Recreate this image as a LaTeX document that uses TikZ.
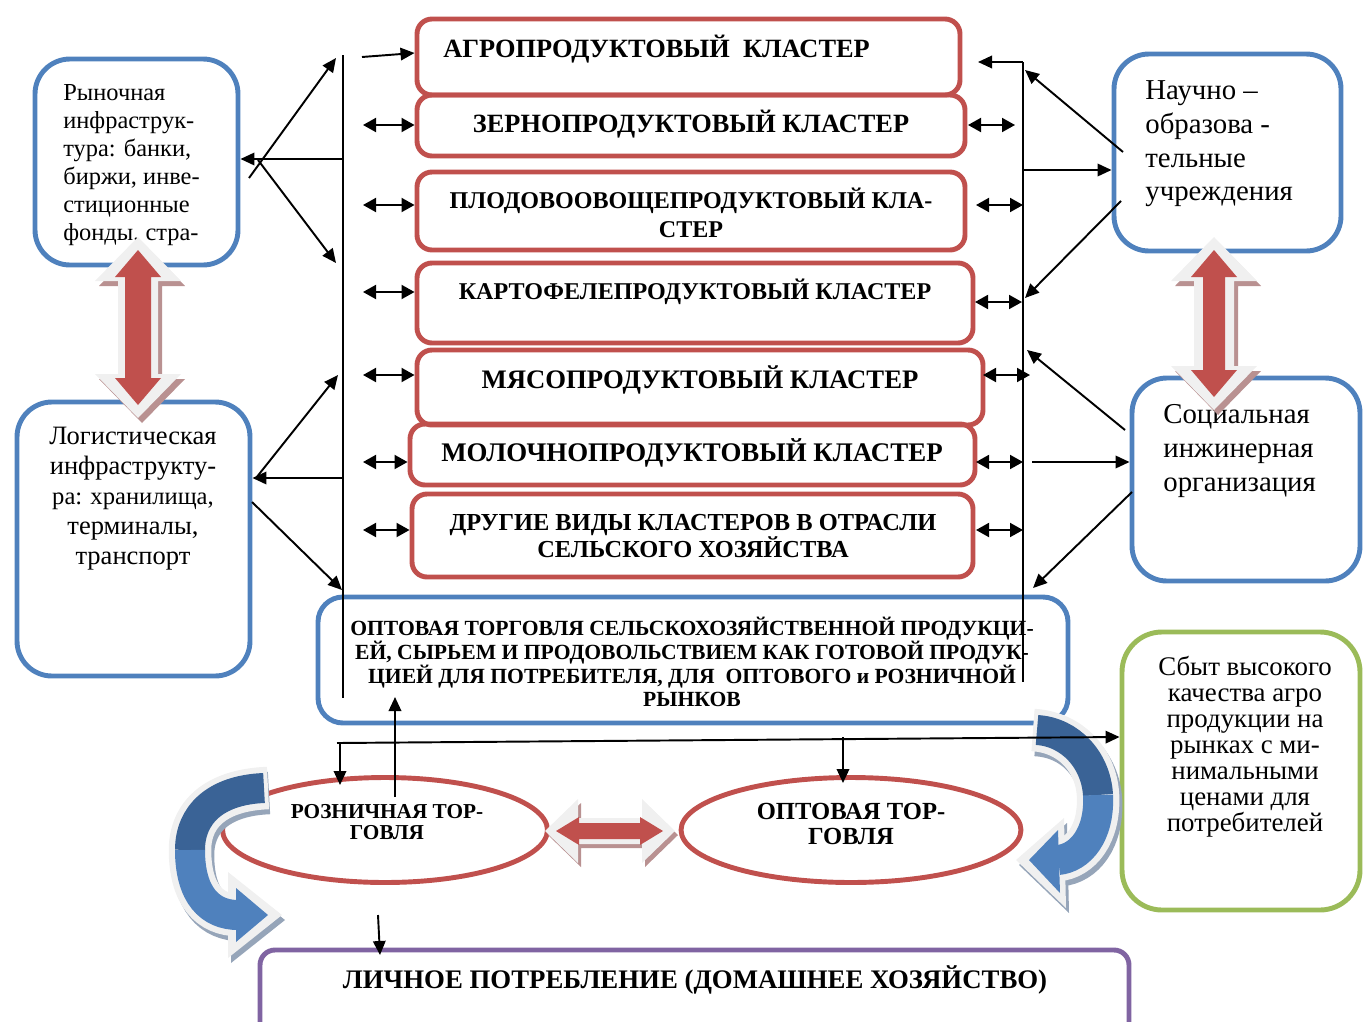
\documentclass[tikz,border=0pt]{standalone}
\usepackage{fontspec}
\setmainfont{Liberation Serif}
\usetikzlibrary{arrows.meta,fit,shapes.geometric}
\definecolor{cblue}{RGB}{79,129,189}
\definecolor{cred}{RGB}{192,80,77}
\definecolor{cgreen}{RGB}{155,187,89}
\definecolor{cpurple}{RGB}{128,100,162}
\definecolor{cdark}{RGB}{58,99,150}
\definecolor{clight}{RGB}{79,129,189}
\definecolor{cwhite}{RGB}{240,240,240}
\definecolor{cshadow}{RGB}{185,145,145}
\definecolor{cbshadow}{RGB}{150,165,185}
% vertical double block arrow: cx, ytop, ybot, head half width, shaft half width, head length, style
\newcommand\vdarr[7]{\fill[#7] (#1,#2) -- ({#1+#4},{#2+#6}) -- ({#1+#5},{#2+#6}) -- ({#1+#5},{#3-#6}) -- ({#1+#4},{#3-#6}) -- (#1,#3) -- ({#1-#4},{#3-#6}) -- ({#1-#5},{#3-#6}) -- ({#1-#5},{#2+#6}) -- ({#1-#4},{#2+#6}) -- cycle;}
% horizontal double block arrow: xl, xr, cy, head half height, shaft half height, head length, style
\newcommand\hdarr[7]{\fill[#7] (#1,#3) -- ({#1+#6},{#3-#4}) -- ({#1+#6},{#3-#5}) -- ({#2-#6},{#3-#5}) -- ({#2-#6},{#3-#4}) -- (#2,#3) -- ({#2-#6},{#3+#4}) -- ({#2-#6},{#3+#5}) -- ({#1+#6},{#3+#5}) -- ({#1+#6},{#3+#4}) -- cycle;}
\begin{document}
\begin{tikzpicture}[x=0.02cm,y=-0.02cm,
  bluebox/.style={draw=cblue,line width=2.8pt,rounded corners=0.7cm,inner sep=0pt},
  widebox/.style={draw=cblue,line width=2.8pt,rounded corners=0.5cm,inner sep=0pt},
  greenbox/.style={draw=cgreen,line width=2.8pt,rounded corners=0.8cm,inner sep=0pt},
  purplebox/.style={draw=cpurple,line width=2.8pt,rounded corners=0.3cm,inner sep=0pt},
  redbox/.style={draw=cred,line width=2.8pt,rounded corners=0.3cm,inner sep=0pt},
  redell/.style={draw=cred,line width=2.8pt,ellipse,inner sep=0pt},
  txt/.style={inner sep=0pt,align=center},
  clus/.style={txt,font=\fontsize{15}{16.4}\selectfont\bfseries},
  arr/.style={line width=1.1pt,-{Triangle[length=2.8mm,width=2.5mm]}},
  dbl/.style={line width=1.1pt,{Triangle[length=2.6mm,width=2.8mm]}-{Triangle[length=2.6mm,width=2.8mm]}},
  bus/.style={line width=0.9pt}]
\useasboundingbox (0,0) rectangle (1365,1021);
\clip (0,0) rectangle (1365,1021);

% ---------- side boxes ----------
\node[bluebox,fit={(35,59)(238,265)}] (mkt) {};
\node[bluebox,fit={(17,402)(250,676)}] (log) {};
\node[bluebox,fit={(1114,54)(1341,251)}] (sci) {};
\node[bluebox,fit={(1132,378)(1360,581)}] (soc) {};
\node[greenbox,fit={(1122,632)(1360,910)}] (sales) {};
\node[widebox,fit={(318,597)(1068,723)}] (whole) {};
\node[purplebox,fit={(260,950)(1129,1045)}] (cons) {};

% ---------- cluster boxes ----------
\node[redbox,fit={(417,19)(960,95)}] (c1) {};
\node[redbox,fit={(417,95)(965,156)}] (c2) {};
\node[redbox,fit={(417,172)(965,250)}] (c3) {};
\node[redbox,fit={(417,263)(973,343)}] (c4) {};
\node[redbox,fit={(417,350)(983,425)}] (c5) {};
\node[redbox,fit={(410,424)(975,485)}] (c6) {};
\node[redbox,fit={(412,494)(973,577)}] (c7) {};

% ---------- ellipses ----------
\node[redell,minimum width=6.5cm,minimum height=2.1cm] (retail) at (385,830) {};
\node[redell,minimum width=6.8cm,minimum height=2.1cm] (whsl) at (851,830) {};

% ---------- texts ----------
\node[txt,anchor=north west,align=left,font=\fontsize{13.9}{15.9}\selectfont] (mktt) at (63,84) {Рыночная\\инфраструк-\\тура: банки,\\биржи, инве-\\стиционные\\фонды, стра-};
\node[txt,anchor=north,font=\fontsize{15.1}{17}\selectfont] (logt) at (133,427) {Логистическая\\инфраструкту-\\\fontsize{14}{17}\selectfont ра: хранилища,\\терминалы,\\транспорт};
\node[txt,anchor=north west,align=left,font=\fontsize{16.4}{19.3}\selectfont] (scit) at (1145,80) {Научно –\\образова -\\тельные\\учреждения};
\node[txt,anchor=north west,align=left,font=\fontsize{16.4}{19.5}\selectfont] (soct) at (1163,404) {Социальная\\инжинерная\\организация};
\node[txt,anchor=north,font=\fontsize{15.3}{14.8}\selectfont] (salest) at (1245,656) {Сбыт высокого\\качества агро\\продукции на\\рынках с ми-\\нимальными\\ценами для\\потребителей};

\node[clus,anchor=west] (c1t) at (443,49) {АГРОПРОДУКТОВЫЙ \ КЛАСТЕР};
\node[clus] (c2t) at (691,124) {ЗЕРНОПРОДУКТОВЫЙ КЛАСТЕР};
\node[clus,font=\fontsize{13.7}{16.4}\selectfont\bfseries] (c3t) at (691,213) {ПЛОДОВООВОЩЕПРОДУКТОВЫЙ КЛА-\\СТЕР};
\node[clus,font=\fontsize{13.7}{16.4}\selectfont\bfseries] (c4t) at (695,292) {КАРТОФЕЛЕПРОДУКТОВЫЙ КЛАСТЕР};
\node[clus,font=\fontsize{15.2}{16.4}\selectfont\bfseries] (c5t) at (700,380) {МЯСОПРОДУКТОВЫЙ КЛАСТЕР};
\node[clus,font=\fontsize{15.3}{16.4}\selectfont\bfseries] (c6t) at (692,453) {МОЛОЧНОПРОДУКТОВЫЙ КЛАСТЕР};
\node[txt,font=\fontsize{13.9}{15.9}\selectfont\bfseries] (c7t) at (693,536) {ДРУГИЕ ВИДЫ КЛАСТЕРОВ В ОТРАСЛИ\\СЕЛЬСКОГО ХОЗЯЙСТВА};

\node[txt,font=\fontsize{12.3}{13.6}\selectfont\bfseries] (wholet) at (692,662) {ОПТОВАЯ ТОРГОВЛЯ СЕЛЬСКОХОЗЯЙСТВЕННОЙ ПРОДУКЦИ-\\ЕЙ, СЫРЬЕМ И ПРОДОВОЛЬСТВИЕМ КАК ГОТОВОЙ ПРОДУК-\\ЦИЕЙ ДЛЯ ПОТРЕБИТЕЛЯ, ДЛЯ \ ОПТОВОГО и РОЗНИЧНОЙ\\РЫНКОВ};

\node[txt,font=\fontsize{12.1}{12}\selectfont\bfseries] (retailt) at (387,822) {РОЗНИЧНАЯ ТОР-\\ГОВЛЯ};
\node[txt,font=\fontsize{14}{14.2}\selectfont\bfseries] (whslt) at (851,824) {ОПТОВАЯ ТОР-\\ГОВЛЯ};
\node[txt,font=\fontsize{15.25}{16}\selectfont\bfseries] (const) at (695,980) {ЛИЧНОЕ ПОТРЕБЛЕНИЕ (ДОМАШНЕЕ ХОЗЯЙСТВО)};

% ---------- big red double arrows ----------
\vdarr{142}{242}{423}{43}{20}{44}{cshadow}
\vdarr{138}{237}{418}{43}{20}{44}{cwhite}
\vdarr{138}{250}{405}{23}{13}{27}{cred}
\vdarr{1218}{242}{415}{43}{20}{44}{cshadow}
\vdarr{1214}{237}{410}{43}{20}{44}{cwhite}
\vdarr{1214}{250}{397}{23}{11}{27}{cred}
\hdarr{548}{678}{835}{32}{13}{33}{cshadow}
\hdarr{545}{675}{831}{32}{13}{33}{cwhite}
\hdarr{556}{663}{831}{14}{8}{23}{cred}

% ---------- curved blue arrows ----------
% left
\begin{scope}[shift={(3,5)}]
\draw[line width=0.85cm,cbshadow] (266,788) .. controls (215,790) and (190,815) .. (190,850) .. controls (190,895) and (210,915) .. (238,915);
\fill[cbshadow] (228,872) -- (282,915) -- (228,958) -- cycle;
\end{scope}
\draw[line width=0.85cm,cwhite] (268,788) .. controls (215,790) and (190,815) .. (190,850) .. controls (190,895) and (210,915) .. (238,915);
\fill[cwhite] (228,872) -- (282,915) -- (228,958) -- cycle;
\draw[line width=0.6cm,cdark] (264,788) .. controls (215,790) and (190,815) .. (190,850);
\draw[line width=0.6cm,clight] (190,850) .. controls (190,895) and (210,915) .. (238,915);
\fill[clight] (236,888) -- (268,915) -- (236,942) -- cycle;
% right
\begin{scope}[shift={(3,5)}]
\draw[line width=0.85cm,cbshadow] (1033,730) .. controls (1070,732) and (1096,760) .. (1098,795) .. controls (1100,835) and (1080,858) .. (1058,860);
\fill[cbshadow] (1064,818) -- (1016,860) -- (1066,908) -- cycle;
\end{scope}
\draw[line width=0.85cm,cwhite] (1033,730) .. controls (1070,732) and (1096,760) .. (1098,795) .. controls (1100,835) and (1080,858) .. (1058,860);
\fill[cwhite] (1064,818) -- (1016,860) -- (1066,908) -- cycle;
\draw[line width=0.6cm,cdark] (1037,730) .. controls (1070,732) and (1096,760) .. (1098,795);
\draw[line width=0.6cm,clight] (1098,795) .. controls (1100,835) and (1080,858) .. (1058,860);
\fill[clight] (1058,830) -- (1029,860) -- (1060,893) -- cycle;

% ---------- bus lines ----------
\coordinate (LT) at (343,55);
\coordinate (LB) at (343,698);
\coordinate (RT) at (1023,62);
\coordinate (RB) at (1023,682);
\draw[bus] (LT) -- (LB);
\draw[bus] (RT) -- (RB);

% ---------- left side connectors ----------
\draw[arr] (362,57) -- (c1.west |- 0,53);
\foreach \y/\n in {125/c2,205/c3,292/c4,375/c5,462/c6,530/c7}
  \draw[dbl] (363,\y) -- (\n.west |- 0,\y);
\foreach \y/\x in {125/1015,205/1023,302/1022,375/1030,462/1023,530/1023}
  \draw[dbl] (\x,\y) -- ({\x-47},\y);
\draw[arr] (RT) -- (978,62);

\draw[arr] (343,159) -- (mkt.east |- 0,159);
\draw[arr] (249,178) -- (336,58);
\draw[arr] (258,160) -- (336,263);
\draw[arr] (343,478) -- (log.east |- 0,478);
\draw[arr] (256,478) -- (338,375);
\draw[arr] (252,502) -- (342,590);

% ---------- right side connectors ----------
\draw[arr] (1123,152) -- (1025,70);
\draw[arr] (1023,170) -- (sci.west |- 0,170);
\draw[arr] (1121,201) -- (1025,298);
\draw[arr] (1125,430) -- (1027,350);
\draw[arr] (1032,462) -- (soc.west |- 0,462);
\draw[arr] (1132,492) -- (1033,588);

% ---------- bottom connectors ----------
\coordinate (BL) at (337,743);
\coordinate (BR) at (sales.west |- 0,737);
\draw[arr] (BL) -- (BR);
\draw[arr] (340,743) -- (340,785);
\draw[arr] (395,797) -- (395,697);
\draw[arr] (843,737) -- (843,783);
\draw[arr] (378,915) -- (380,955);
\end{tikzpicture}
\end{document}
